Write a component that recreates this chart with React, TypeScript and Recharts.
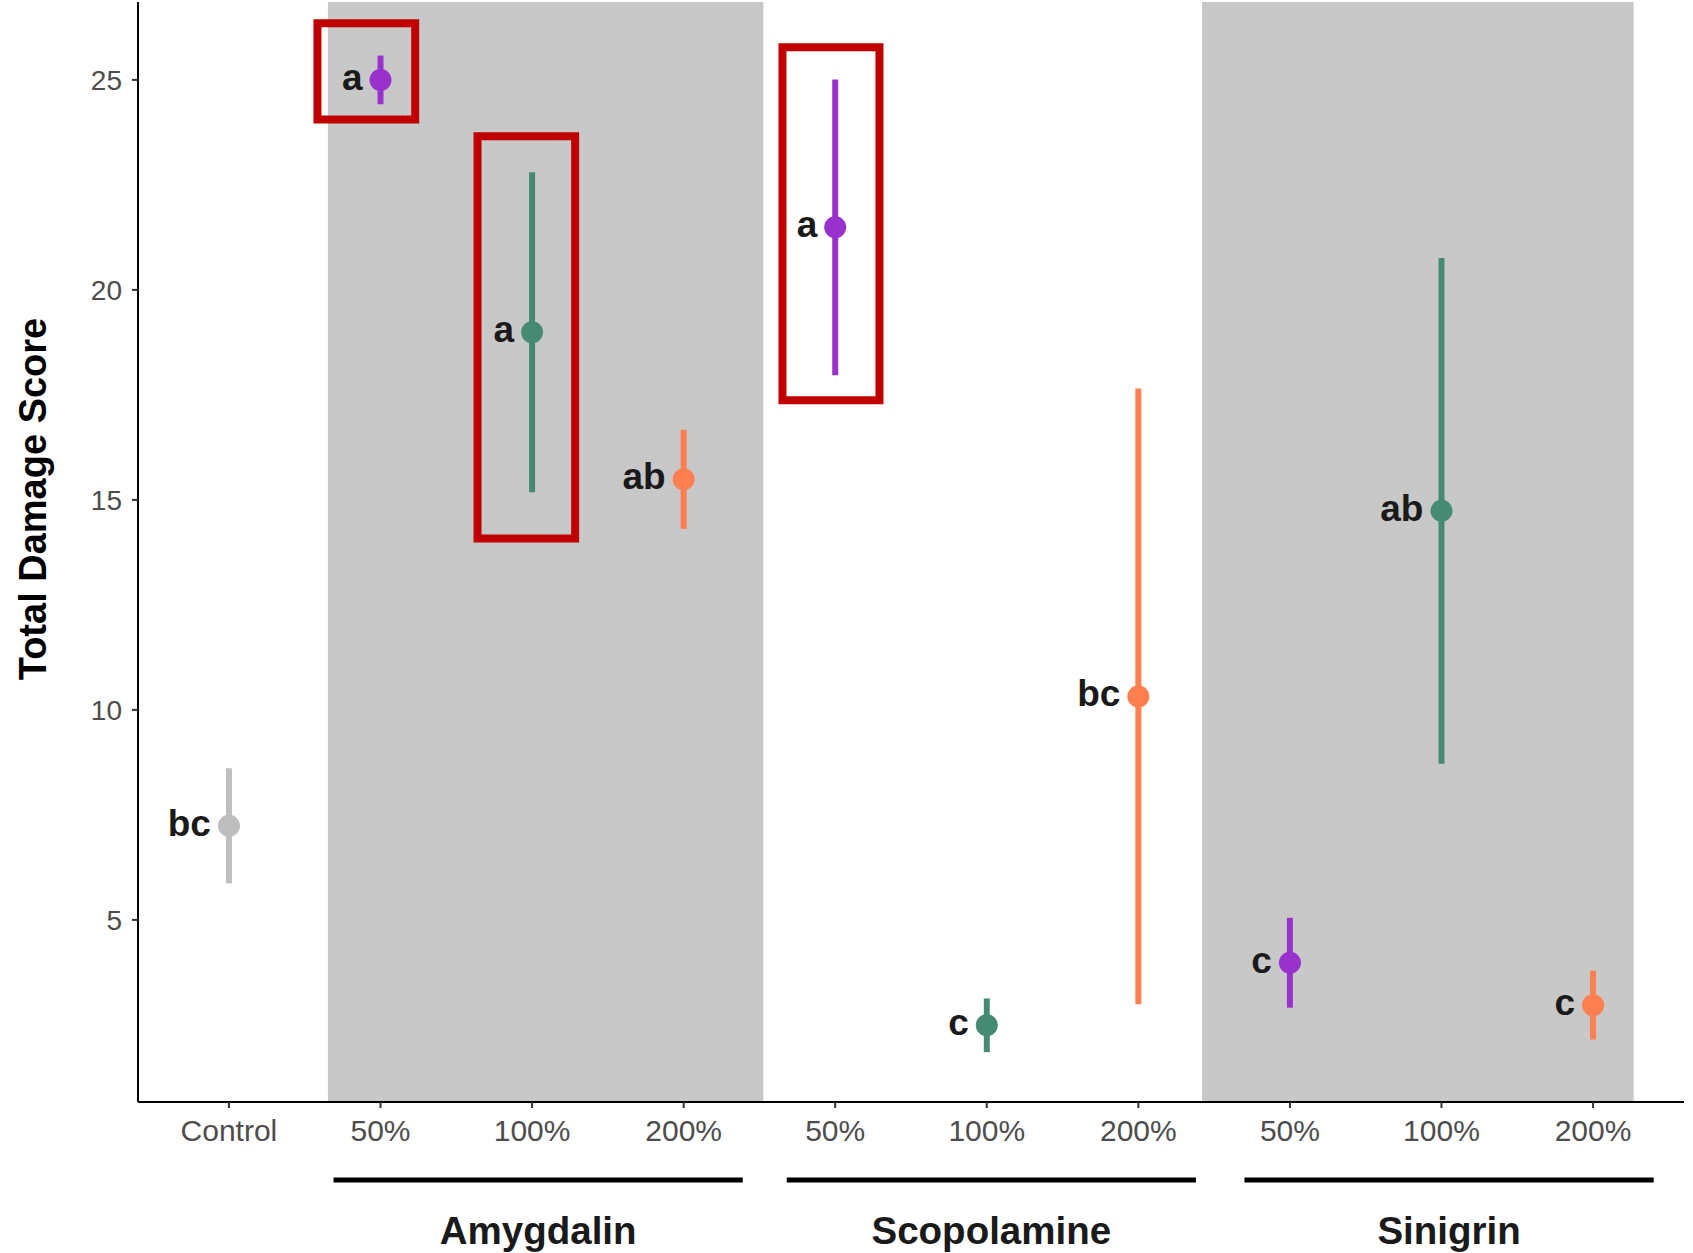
import {
  ScatterChart,
  Scatter,
  XAxis,
  YAxis,
  ErrorBar,
  ReferenceArea,
} from "recharts";

// one entry per position on the x axis
const doseLabels = ["Control", "50%", "100%", "200%", "50%", "100%", "200%", "50%", "100%", "200%"];
const doseKind = ["control", "50", "100", "200", "50", "100", "200", "50", "100", "200"];
const means = [7.24, 25.0, 18.99, 15.49, 21.49, 2.49, 10.32, 3.98, 14.74, 2.97];
const errors = [1.37, 0.58, 3.81, 1.18, 3.52, 0.64, 7.33, 1.07, 6.02, 0.82];
const letters = ["bc", "a", "a", "ab", "a", "c", "bc", "c", "ab", "c"];

const groupNames = ["Amygdalin", "Scopolamine", "Sinigrin"];
const groupCenters = [3.04, 6.03, 9.05];
const groupHalfWidth = 1.35;

// shaded treatment panels
const shadeBands = [
  { x1: 1.653, x2: 4.526 },
  { x1: 7.42, x2: 10.268 },
];

// red highlight boxes
const highlights = [
  { x1: 1.584, x2: 2.229, y1: 24.06, y2: 26.35 },
  { x1: 2.64, x2: 3.284, y1: 14.08, y2: 23.66 },
  { x1: 4.652, x2: 5.292, y1: 17.37, y2: 25.78 },
];

const colors: Record<string, string> = {
  control: "#BEBEBE",
  "50": "#9932CC",
  "100": "#458B74",
  "200": "#FF7F50",
};

const yTicks = [5, 10, 15, 20, 25];
const xTicks = [1, 2, 3, 4, 5, 6, 7, 8, 9, 10];

const W = 1693;
const H = 1253;
const LEFT = 138;
const RIGHT = 9;
const X_DOMAIN: [number, number] = [0.4, 10.6];
const UNIT = (W - LEFT - RIGHT) / (X_DOMAIN[1] - X_DOMAIN[0]);

const points = means.map((m, i) => ({
  x: i + 1,
  y: m,
  err: errors[i],
  letter: letters[i],
  kind: doseKind[i],
}));

const series = ["control", "50", "100", "200"].map((k) => ({
  kind: k,
  data: points.filter((p) => p.kind === k),
}));

const Dot = (props: any) => {
  const { cx, cy, fill, payload } = props;
  return (
    <g>
      <circle cx={cx} cy={cy} r={11} fill={fill} />
      <text
        x={cx - 18}
        y={cy + 10}
        textAnchor="end"
        fontSize={37}
        fontWeight="bold"
        fill="#1A1A1A"
        fontFamily="Liberation Sans, Arial, sans-serif"
      >
        {payload.letter}
      </text>
    </g>
  );
};

const GroupTick = (props: any) => {
  const { x, y, index } = props;
  const half = groupHalfWidth * UNIT;
  return (
    <g>
      <line x1={x - half} x2={x + half} y1={y + 28} y2={y + 28} stroke="#000" strokeWidth={5} />
      <text
        x={x}
        y={y + 92}
        textAnchor="middle"
        fontSize={38.5}
        fontWeight="bold"
        fill="#1A1A1A"
        fontFamily="Liberation Sans, Arial, sans-serif"
      >
        {groupNames[index]}
      </text>
    </g>
  );
};

const yLabel = () => (
  <text
    x={33}
    y={499}
    transform="rotate(-90 33 499)"
    textAnchor="middle"
    dominantBaseline="central"
    fontSize={38}
    fontWeight="bold"
    fill="#000"
    fontFamily="Liberation Sans, Arial, sans-serif"
  >
    Total Damage Score
  </text>
);

export default function App() {
  return (
    <div style={{ position: "absolute", left: 0, top: 0, background: "#fff" }}>
      <ScatterChart
        width={W}
        height={H}
        margin={{ top: 2, right: RIGHT, left: 0, bottom: 0 }}
        style={{ fontFamily: "Liberation Sans, Arial, sans-serif" }}
      >
        {shadeBands.map((b, i) => (
          <ReferenceArea key={"s" + i} x1={b.x1} x2={b.x2} fill="#C8C8C8" fillOpacity={1} stroke="none" />
        ))}
        <XAxis
          dataKey="x"
          type="number"
          domain={X_DOMAIN}
          ticks={xTicks}
          allowDataOverflow
          tickFormatter={(v: number) => doseLabels[v - 1]}
          height={50}
          axisLine={{ stroke: "#000", strokeWidth: 2 }}
          tickLine={{ stroke: "#333", strokeWidth: 2 }}
          tickSize={6}
          tickMargin={12}
          tick={{ fontSize: 30, fill: "#4D4D4D" }}
          interval={0}
        />
        <XAxis
          xAxisId="grp"
          dataKey="x"
          type="number"
          domain={X_DOMAIN}
          ticks={groupCenters}
          allowDataOverflow
          height={101}
          axisLine={false}
          tickLine={false}
          tickSize={0}
          tickMargin={0}
          tick={<GroupTick />}
          interval={0}
        />
        <YAxis
          dataKey="y"
          type="number"
          domain={[0.664, 26.855]}
          ticks={yTicks}
          allowDataOverflow
          width={LEFT}
          axisLine={{ stroke: "#000", strokeWidth: 2 }}
          tickLine={{ stroke: "#333", strokeWidth: 2 }}
          tickSize={6}
          tickMargin={10}
          tick={{ fontSize: 28, fill: "#4D4D4D" }}
          label={yLabel}
        />
        {highlights.map((h, i) => (
          <ReferenceArea
            key={"h" + i}
            x1={h.x1}
            x2={h.x2}
            y1={h.y1}
            y2={h.y2}
            fill="none"
            fillOpacity={0}
            stroke="#C00000"
            strokeWidth={8}
          />
        ))}
        {series.map((s) => (
          <Scatter
            key={s.kind}
            data={s.data}
            fill={colors[s.kind]}
            shape={<Dot />}
            isAnimationActive={false}
          >
            <ErrorBar
              dataKey="err"
              direction="y"
              width={0}
              stroke={colors[s.kind]}
              strokeWidth={6}
              isAnimationActive={false}
            />
          </Scatter>
        ))}
      </ScatterChart>
    </div>
  );
}
